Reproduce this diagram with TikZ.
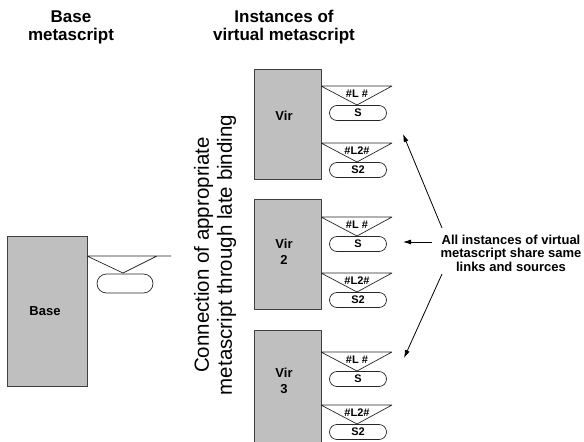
\documentclass[tikz,border=0pt]{standalone}
\usepackage{fontspec}
\setmainfont{Liberation Sans}
\usetikzlibrary{arrows.meta}
\newcommand\vlink[4]{%
  \draw[lnkline] (321,#2) -- (392,#2) (321,#2) -- (357,#2+19) -- (392,#2);
  \node[lnklbl] (#1l) at (357,#2+8) {#3};
  \node[srcbox] (#1s) at (358,#2+27) {#4};
}
\begin{document}
\begin{tikzpicture}[x=1pt,y=-1pt,
  vbox/.style={draw=black!75, fill=black!25, line width=0.8pt, minimum width=67pt, minimum height=110pt, inner sep=0pt, outer sep=0pt, anchor=north west},
  srcbox/.style={draw=black!85, fill=white, line width=0.7pt, rounded corners=7.5pt, minimum width=57pt, minimum height=15pt, inner sep=0pt, font=\bfseries\fontsize{11}{11}\selectfont},
  lnklbl/.style={font=\bfseries\fontsize{11}{11}\selectfont, inner sep=0pt},
  lnkline/.style={draw=black!85, line width=0.7pt},
  title/.style={font=\bfseries\fontsize{17}{18}\selectfont, align=center, inner sep=0pt},
  boxtxt/.style={font=\bfseries\fontsize{13}{16}\selectfont, align=center, inner sep=0pt},
  arr/.style={draw=black, line width=0.8pt, -{Latex[length=8pt,width=5pt]}},
]
\useasboundingbox (0,0) rectangle (584,442);
\fill[white] (0,0) rectangle (584,442);

% titles
\node[title] (t1) at (71,27) {Base\\metascript};
\node[title] (t2) at (284,27) {Instances of\\virtual metascript};

% base
\node[vbox, minimum width=80pt, minimum height=150pt] (base) at (7,236) {};
\node[boxtxt] (basetxt) at (45,311) {Base};
\draw[lnkline] (87,256) -- (171,256) (87,256) -- (123,273) -- (157,256);
\node[srcbox, minimum width=56pt, minimum height=19pt, rounded corners=9.5pt] (bsrc) at (125,283.5) {};

% rotated text
\node[rotate=90, align=center, inner sep=0pt, font=\fontsize{20.5}{23}\selectfont] (conn) at (215,255)
  {Connection of appropriate\\metascript through late binding};

% virtual boxes
\node[vbox] (v1) at (254,69) {};
\node[vbox] (v2) at (254,199) {};
\node[vbox, minimum height=120pt] (v3) at (254,330) {};
\node[boxtxt] (v1t) at (284,116) {Vir};
\node[boxtxt] (v2t) at (284,252) {Vir\\2};
\node[boxtxt] (v3t) at (284,381) {Vir\\3};

\vlink{a1}{86}{\#L \#}{S}
\vlink{a2}{143}{\#L2\#}{S2}
\vlink{b1}{217}{\#L \#}{S}
\vlink{b2}{273}{\#L2\#}{S2}
\vlink{c1}{352}{\#L \#}{S}
\vlink{c2}{405}{\#L2\#}{S2}

% label and arrows
\node[align=center, inner sep=0pt, font=\bfseries\fontsize{13}{13.5}\selectfont] (lbl) at (511,253)
  {All instances of virtual\\metascript share same\\links and sources};
\coordinate (s1) at (442,228);
\coordinate (e1) at (403,134);
\coordinate (s2) at (432,242);
\coordinate (e2) at (403,242);
\coordinate (s3) at (442,274);
\coordinate (e3) at (404,358);
\draw[arr] (s1) -- (e1);
\draw[arr] (s2) -- (e2);
\draw[arr] (s3) -- (e3);
\end{tikzpicture}
\end{document}
